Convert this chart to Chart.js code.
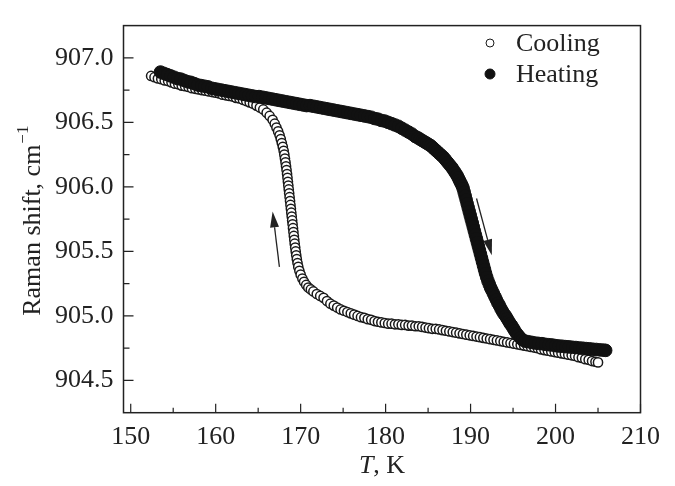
<!DOCTYPE html>
<html><head><meta charset="utf-8">
<script src="https://cdn.jsdelivr.net/npm/chart.js@4.4.0/dist/chart.umd.min.js"></script>
<style>html,body{margin:0;padding:0;background:#fff}#wrap{width:675px;height:486px}
.pre{font-family:'Liberation Serif';position:absolute;left:-999px;top:-999px}</style>
</head><body><span class="pre">Cooling 0123456789 <i>T</i></span><div id="wrap"><canvas id="c" width="675" height="486"></canvas></div>
<script>
const xTicks=[150,160,170,180,190,200,210];
const xMinor=[155,165,175,185,195,205];
const yTicks=[904.5,905.0,905.5,906.0,906.5,907.0];
const yMinor=[904.75,905.25,905.75,906.25,906.75];
const seriesLabels=['Cooling','Heating'];
const xTitle=['T',', K'];
const yTitle=['Raman shift, cm','\u22121'];

const coolingPoints=[
[152.4,906.86],[152.8,906.85],[153.2,906.84],[153.6,906.835],[154.0,906.825],[154.4,906.82],[154.8,906.81],[155.2,906.80],
[155.6,906.795],[156.0,906.785],[156.4,906.78],[156.8,906.775],[157.2,906.765],[157.6,906.76],[158.0,906.755],[158.4,906.75],
[158.8,906.745],[159.2,906.74],[159.6,906.735],[160.0,906.73],[160.4,906.725],[160.8,906.715],[161.2,906.71],[161.6,906.705],
[162.0,906.70],[162.4,906.69],[162.8,906.685],[163.2,906.675],[163.6,906.665],[164.0,906.655],[164.4,906.645],[164.8,906.63],
[165.2,906.615],[165.6,906.60],[166.0,906.575],
[166.35,906.55],[166.7,906.52],[166.95,906.49],[167.15,906.46],[167.35,906.43],[167.52,906.40],[167.66,906.37],[167.78,906.34],
[167.9,906.31],[168.0,906.28],[168.08,906.25],[168.15,906.22],[168.22,906.19],[168.28,906.16],[168.34,906.13],[168.4,906.10],
[168.45,906.07],[168.5,906.04],[168.55,906.01],[168.6,905.98],[168.65,905.95],[168.7,905.92],[168.75,905.89],[168.8,905.86],
[168.85,905.83],[168.9,905.80],[168.95,905.77],[169.0,905.74],[169.05,905.71],[169.1,905.68],[169.15,905.65],[169.2,905.62],
[169.25,905.59],[169.3,905.56],[169.36,905.53],[169.42,905.50],[169.48,905.47],[169.55,905.44],[169.63,905.41],[169.72,905.38],
[169.85,905.35],[170.0,905.32],[170.2,905.29],[170.4,905.265],[170.65,905.24],[170.9,905.22],[171.2,905.205],
[171.5,905.19],[171.9,905.17],[172.3,905.155],[172.7,905.14],[173.1,905.115],[173.5,905.095],[173.9,905.08],[174.3,905.065],
[174.7,905.05],[175.1,905.04],[175.5,905.03],[175.9,905.02],[176.3,905.01],[176.7,905.00],[177.1,904.99],[177.5,904.985],
[177.9,904.975],[178.3,904.97],[178.7,904.96],[179.1,904.955],[179.5,904.95],[179.9,904.945],[180.3,904.94],[180.7,904.94],
[181.1,904.935],[181.5,904.935],[181.9,904.93],[182.3,904.93],[182.7,904.925],[183.1,904.925],[183.5,904.92],[183.9,904.92],
[184.3,904.915],[184.7,904.91],[185.1,904.905],[185.5,904.90],[185.9,904.90],[186.3,904.895],[186.7,904.89],[187.1,904.885],
[187.5,904.88],[187.9,904.875],[188.3,904.87],[188.7,904.865],[189.1,904.86],[189.5,904.855],[189.9,904.85],[190.3,904.845],
[190.7,904.84],[191.1,904.835],[191.5,904.83],[191.9,904.825],[192.3,904.82],[192.7,904.815],[193.1,904.81],[193.5,904.805],
[193.9,904.80],[194.3,904.795],[194.7,904.79],[195.1,904.785],[195.5,904.78],[195.9,904.775],[196.3,904.77],[196.7,904.765],
[197.1,904.76],[197.5,904.755],[197.9,904.75],[198.3,904.74],[198.7,904.735],[199.1,904.73],[199.5,904.725],[199.9,904.72],
[200.3,904.715],[200.7,904.71],[201.1,904.705],[201.5,904.70],[201.9,904.695],[202.3,904.69],[202.7,904.68],[203.1,904.675],
[203.5,904.665],[203.9,904.66],[204.3,904.65],[204.7,904.645],[205.0,904.64]
];

const heatingPoints=[
[153.5,906.89],[153.9,906.88],[154.3,906.87],[154.7,906.86],[155.1,906.85],[155.5,906.84],[155.9,906.835],[156.3,906.825],
[156.7,906.815],[157.1,906.81],[157.5,906.80],[157.9,906.79],[158.3,906.785],[158.7,906.78],[159.1,906.775],[159.5,906.765],
[159.9,906.76],[160.3,906.755],[160.7,906.75],[161.1,906.745],[161.5,906.74],[161.9,906.735],[162.3,906.73],[162.7,906.725],
[163.1,906.72],[163.5,906.715],[163.9,906.71],[164.3,906.705],[164.7,906.70],[165.1,906.70],[165.5,906.695],[165.9,906.69],
[166.3,906.685],[166.7,906.68],[167.1,906.675],[167.5,906.67],[167.9,906.665],[168.3,906.66],[168.7,906.655],[169.1,906.65],
[169.5,906.645],[169.9,906.64],[170.3,906.635],[170.7,906.63],[171.1,906.63],[171.5,906.625],[171.9,906.62],[172.3,906.615],
[172.7,906.61],[173.1,906.605],[173.5,906.60],[173.9,906.595],[174.3,906.59],[174.7,906.585],[175.1,906.58],[175.5,906.575],
[175.9,906.57],[176.3,906.565],[176.7,906.56],[177.1,906.555],[177.5,906.55],[177.9,906.545],[178.3,906.54],[178.7,906.53],
[179.1,906.525],[179.5,906.515],[179.9,906.51],[180.3,906.50],[180.7,906.49],[181.1,906.48],[181.5,906.47],[181.9,906.455],
[182.3,906.44],[182.7,906.425],[183.1,906.41],[183.5,906.39],
[183.8,906.38],[184.05,906.37],[184.3,906.36],[184.55,906.35],[184.8,906.34],[185.05,906.33],[185.3,906.32],[185.55,906.305],
[185.8,906.29],[186.05,906.275],[186.3,906.26],[186.55,906.245],[186.8,906.23],[187.05,906.21],[187.3,906.19],[187.55,906.17],
[187.8,906.15],[188.0,906.13],[188.2,906.11],[188.4,906.09],[188.55,906.07],[188.7,906.05],[188.85,906.03],[189.0,906.01],
[189.12,905.99],[189.24,905.96],[189.36,905.93],[189.48,905.90],[189.6,905.87],[189.72,905.84],[189.84,905.81],[189.96,905.78],
[190.08,905.75],[190.2,905.72],[190.32,905.69],[190.44,905.66],[190.56,905.63],[190.68,905.60],[190.8,905.57],[190.92,905.54],
[191.04,905.51],[191.16,905.48],[191.28,905.45],[191.4,905.42],[191.52,905.39],[191.64,905.36],[191.76,905.33],[191.9,905.30],
[192.05,905.27],[192.2,905.245],[192.35,905.22],[192.5,905.20],[192.68,905.175],[192.86,905.15],[193.04,905.125],[193.22,905.10],
[193.4,905.08],[193.58,905.055],[193.76,905.035],[193.94,905.015],[194.12,905.00],[194.3,904.98],[194.48,904.96],[194.66,904.94],
[194.84,904.925],[195.02,904.905],[195.2,904.885],[195.4,904.865],[195.6,904.85],[195.85,904.83],[196.1,904.815],[196.4,904.805],
[196.8,904.80],[197.2,904.795],[197.6,904.79],[198.0,904.787],[198.4,904.785],[198.8,904.78],[199.2,904.777],[199.6,904.775],
[200.0,904.77],[200.4,904.767],[200.8,904.765],[201.2,904.762],[201.6,904.76],[202.0,904.757],[202.4,904.755],[202.8,904.752],
[203.2,904.75],[203.6,904.747],[204.0,904.745],[204.4,904.742],[204.8,904.74],[205.2,904.737],[205.6,904.735],[205.9,904.733]
];

const arrowUp=[[167.5,905.38],[166.7,905.81]];
const arrowDown=[[190.7,905.91],[192.5,905.47]];

const FONT="'Liberation Serif', serif";
const FS=26;
const INK='#222';

const decor={
  id:'decor',
  afterDraw(chart){
    const ctx=chart.ctx, a=chart.chartArea, xs=chart.scales.x, ys=chart.scales.y;
    ctx.save();
    ctx.strokeStyle=INK; ctx.lineWidth=1.5;
    ctx.strokeRect(a.left,a.top,a.right-a.left,a.bottom-a.top);
    ctx.lineWidth=1.2;
    ctx.beginPath();
    xTicks.forEach(v=>{const p=xs.getPixelForValue(v);ctx.moveTo(p,a.bottom);ctx.lineTo(p,a.bottom-9);});
    xMinor.forEach(v=>{const p=xs.getPixelForValue(v);ctx.moveTo(p,a.bottom);ctx.lineTo(p,a.bottom-5);});
    yTicks.forEach(v=>{const p=ys.getPixelForValue(v);ctx.moveTo(a.left,p);ctx.lineTo(a.left+10,p);});
    yMinor.forEach(v=>{const p=ys.getPixelForValue(v);ctx.moveTo(a.left,p);ctx.lineTo(a.left+6,p);});
    ctx.stroke();
    function arrow(pts){
      const x0=xs.getPixelForValue(pts[0][0]), y0=ys.getPixelForValue(pts[0][1]);
      const x1=xs.getPixelForValue(pts[1][0]), y1=ys.getPixelForValue(pts[1][1]);
      const ang=Math.atan2(y1-y0,x1-x0), L=16, W=4.5;
      const bx=x1-L*Math.cos(ang), by=y1-L*Math.sin(ang);
      ctx.strokeStyle=INK; ctx.lineWidth=1.3;
      ctx.beginPath(); ctx.moveTo(x0,y0); ctx.lineTo(bx,by); ctx.stroke();
      ctx.fillStyle=INK; ctx.beginPath();
      ctx.moveTo(x1,y1);
      ctx.lineTo(bx+W*Math.sin(ang),by-W*Math.cos(ang));
      ctx.lineTo(bx-W*Math.sin(ang),by+W*Math.cos(ang));
      ctx.closePath(); ctx.fill();
    }
    arrow(arrowUp); arrow(arrowDown);
    ctx.font=FS+'px '+FONT; ctx.textBaseline='middle'; ctx.textAlign='left'; ctx.fillStyle=INK;
    const ds=chart.data.datasets;
    const lx=490, ly=[43,74];
    seriesLabels.forEach((lab,i)=>{
      const d=ds.find(q=>q.label===lab);
      ctx.beginPath(); ctx.arc(lx,ly[i],i===0?4:5,0,Math.PI*2);
      ctx.fillStyle=d.pointBackgroundColor; ctx.fill();
      ctx.lineWidth=1; ctx.strokeStyle=d.pointBorderColor; ctx.stroke();
      ctx.fillStyle=INK; ctx.fillText(lab,516,ly[i]+1);
    });
    const cx=(a.left+a.right)/2, ty=466;
    ctx.font='italic '+FS+'px '+FONT; const w1=ctx.measureText(xTitle[0]).width;
    ctx.font=FS+'px '+FONT; const w2=ctx.measureText(xTitle[1]).width;
    let sx=cx-(w1+w2)/2;
    ctx.font='italic '+FS+'px '+FONT; ctx.fillText(xTitle[0],sx,ty);
    ctx.font=FS+'px '+FONT; ctx.fillText(xTitle[1],sx+w1,ty);
    ctx.save();
    ctx.translate(31,(a.top+a.bottom)/2+2); ctx.rotate(-Math.PI/2);
    ctx.font=FS+'px '+FONT; const m1=ctx.measureText(yTitle[0]).width;
    ctx.font='17px '+FONT; const m2=ctx.measureText(yTitle[1]).width;
    const s0=-(m1+m2)/2;
    ctx.textBaseline='alphabetic';
    ctx.font=FS+'px '+FONT; ctx.fillText(yTitle[0],s0,9);
    ctx.font='17px '+FONT; ctx.fillText(yTitle[1],s0+m1+1,-3);
    ctx.restore();
    ctx.restore();
  }
};

function build(){
new Chart(document.getElementById('c'),{
  type:'scatter',
  data:{datasets:[
    {label:seriesLabels[1],data:heatingPoints.map(p=>({x:p[0],y:p[1]})),order:0,
     pointRadius:6.3,pointBorderWidth:1,pointBackgroundColor:'#111',pointBorderColor:'#111',showLine:false},
    {label:seriesLabels[0],data:coolingPoints.map(p=>({x:p[0],y:p[1]})),order:1,
     pointRadius:4.6,pointBorderWidth:1.5,pointBackgroundColor:'#ffffff',pointBorderColor:'#1a1a1a',showLine:false}
  ]},
  options:{
    responsive:false,animation:false,devicePixelRatio:1,
    layout:{padding:{left:0,top:7.5,right:34.5,bottom:0}},
    plugins:{legend:{display:false},tooltip:{enabled:false}},
    scales:{
      x:{type:'linear',min:149.15,max:210,
        afterBuildTicks(s){s.ticks=xTicks.map(v=>({value:v}));},
        afterFit(s){s.height=73.3;},
        grid:{display:false,drawTicks:false},border:{display:false},
        ticks:{color:INK,font:{family:FONT,size:FS},padding:9,maxRotation:0,autoSkip:false,callback:v=>String(v)}},
      y:{type:'linear',min:904.25,max:907.25,
        afterBuildTicks(s){s.ticks=yTicks.map(v=>({value:v}));},
        afterFit(s){s.width=123.5;},
        grid:{display:false,drawTicks:false},border:{display:false},
        ticks:{color:INK,font:{family:FONT,size:FS},padding:10,autoSkip:false,callback:v=>Number(v).toFixed(1)}}
    }
  },
  plugins:[decor]
});
}
Promise.all([document.fonts.load("26px 'Liberation Serif'"),document.fonts.load("italic 26px 'Liberation Serif'")]).then(build,build);
</script></body></html>
